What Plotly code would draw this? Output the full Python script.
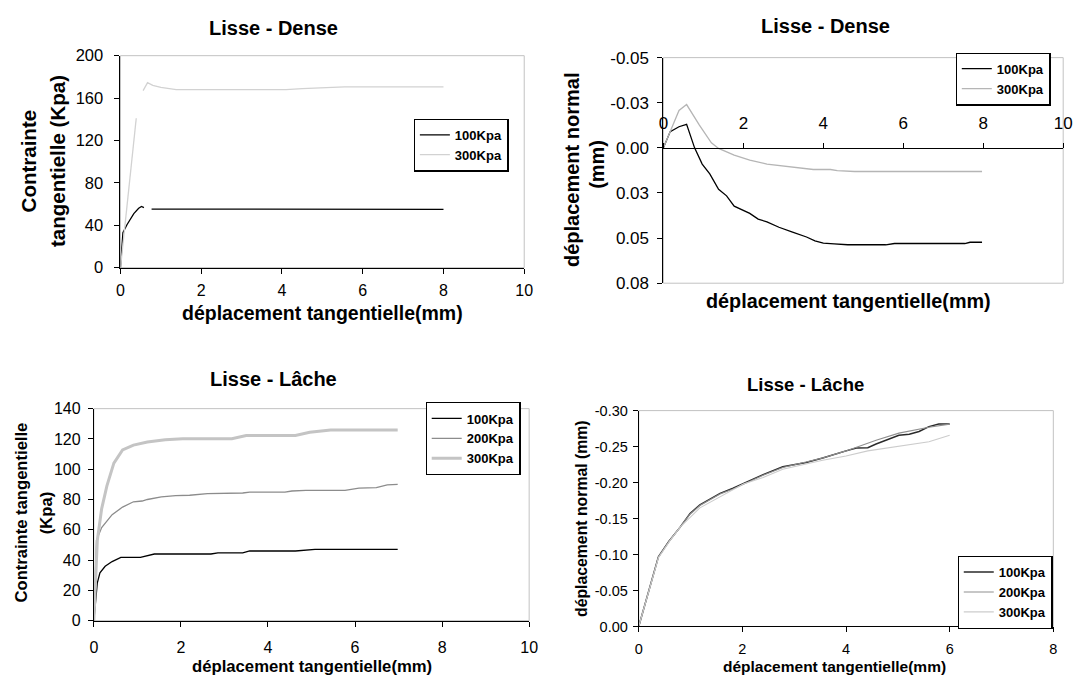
import plotly.graph_objects as go

W, H = 1087, 688
FONT = "Liberation Sans, Arial, sans-serif"

# ---------------- data ----------------
# Panel 1 : Lisse - Dense, shear stress
dense_tau_x100 = [0, 0.06, 0.16, 0.33, 0.45, 0.52, 0.58, 0.68, 0.77, 8.0]
dense_tau_y100 = [0, 33, 40.5, 51, 56, 57.8, 56.6, None, 55.3, 55.0]
dense_tau_x300 = [0, 0.39, 0.48, 0.56, 0.67, 0.8, 1.0, 1.38, 4.1, 4.5, 5.55, 8.0]
dense_tau_y300 = [0, 141, None, 167, 174.5, 172, 170, 168, 168, 169, 170.5, 170.5]

# Panel 2 : Lisse - Dense, normal displacement
dense_dn_x100 = [0, 0.17, 0.39, 0.58, 0.78, 0.97, 1.16, 1.38, 1.58, 1.77, 2.16, 2.37,
                 2.59, 2.89, 3.23, 3.58, 3.79, 4.0, 4.27, 4.61, 5.56, 5.78, 7.54, 7.67, 7.97]
dense_dn_y100 = [0, -0.009, -0.0117, -0.013, 0, 0.009, 0.0144, 0.023, 0.0266, 0.0323,
                 0.0363, 0.0395, 0.041, 0.044, 0.0467, 0.0494, 0.0515, 0.0528, 0.0532,
                 0.0537, 0.0537, 0.053, 0.053, 0.0523, 0.0523]
dense_dn_x300 = [0, 0.39, 0.58, 0.9, 1.2, 1.38, 1.77, 2.16, 2.59, 3.23, 3.75, 4.18, 4.35, 4.78, 7.97]
dense_dn_y300 = [0, -0.0207, -0.024, -0.0126, -0.0028, 0.0003, 0.004, 0.0068, 0.009,
                 0.0108, 0.012, 0.012, 0.0126, 0.0131, 0.0131]

# Panel 3 : Lisse - Lâche, shear stress
loose_tau_x100 = [0, 0.08, 0.14, 0.26, 0.42, 0.62, 1.07, 1.39, 2.69, 2.85, 3.42, 3.58, 4.63, 5.08, 6.98]
loose_tau_y100 = [0, 25, 31.6, 35.9, 39, 41.8, 41.8, 44, 44, 44.8, 44.8, 46, 46, 47, 47]
loose_tau_x200 = [0, 0.06, 0.18, 0.42, 0.66, 0.91, 1.11, 1.23, 1.55, 1.88, 2.2, 2.61, 3.42,
                  3.58, 4.39, 4.55, 4.87, 5.77, 6.09, 6.49, 6.74, 6.98]
loose_tau_y200 = [0, 53, 61.5, 70, 75, 78.5, 79, 80, 81.7, 82.6, 82.8, 83.9, 84.3, 84.9,
                  84.9, 85.6, 86, 86, 87.5, 87.9, 89.6, 90]
loose_tau_x300 = [0, 0.08, 0.18, 0.3, 0.46, 0.66, 0.91, 1.23, 1.64, 2.04, 3.17, 3.5, 4.63, 4.96, 5.44, 6.98]
loose_tau_y300 = [0, 53, 74, 89, 104, 112.7, 115.9, 118, 119.5, 120.1, 120.1, 122.3, 122.3,
                  124.4, 125.9, 125.9]

# Panel 4 : Lisse - Lâche, normal displacement
loose_dn_x100 = [0, 0.38, 0.58, 0.8, 0.99, 1.18, 1.57, 1.82, 2.4, 2.78, 3.23, 3.55, 4.0, 4.2,
                 4.42, 4.58, 5.02, 5.22, 5.41, 5.6, 5.79, 6.0]
loose_dn_y100 = [0, -0.0967, -0.118, -0.138, -0.157, -0.169, -0.185, -0.192, -0.211, -0.222,
                 -0.228, -0.234, -0.244, -0.248, -0.2485, -0.2535, -0.2656, -0.267, -0.271,
                 -0.2777, -0.2812, -0.2812]
loose_dn_x200 = [0, 0.38, 0.58, 0.8, 0.99, 1.18, 1.57, 1.82, 2.4, 2.78, 3.23, 3.55, 4.0, 4.2,
                 4.58, 5.02, 5.6, 6.0]
loose_dn_y200 = [0, -0.0967, -0.118, -0.138, -0.156, -0.168, -0.184, -0.191, -0.210, -0.221,
                 -0.228, -0.234, -0.244, -0.249, -0.2588, -0.2687, -0.2768, -0.2812]
loose_dn_x300 = [0, 0.38, 0.61, 0.8, 1.18, 1.57, 2.02, 2.4, 2.78, 3.55, 4.0, 4.42, 5.02, 5.6, 6.0]
loose_dn_y300 = [0, -0.0954, -0.12, -0.138, -0.1648, -0.1805, -0.198, -0.207, -0.2185,
                 -0.231, -0.237, -0.244, -0.25, -0.2566, -0.2656]

# tick labels
p2_tickvals = [-0.05, -0.025, 0, 0.025, 0.05, 0.075]
p2_ticktext = ["-0.05", "-0.03", "0.00", "0.03", "0.05", "0.08"]
p4_tickvals = [-0.30, -0.25, -0.20, -0.15, -0.10, -0.05, 0.0]
p4_ticktext = ["-0.30", "-0.25", "-0.20", "-0.15", "-0.10", "-0.05", "0.00"]


def px(x):
    return x / W


def py(y):
    return 1 - y / H


fig = go.Figure()

def add(x, y, name, color, width, xa, ya, legend):
    fig.add_trace(go.Scatter(x=x, y=y, mode="lines", name=name,
                             line=dict(color=color, width=width),
                             xaxis=xa, yaxis=ya, legend=legend,
                             connectgaps=False, hoverinfo="skip"))

add(dense_tau_x100, dense_tau_y100, "100Kpa", "#000000", 1.3, "x", "y", "legend")
add(dense_tau_x300, dense_tau_y300, "300Kpa", "#d2d2d2", 1.3, "x", "y", "legend")
add(dense_dn_x100, dense_dn_y100, "100Kpa", "#000000", 1.3, "x2", "y2", "legend2")
add(dense_dn_x300, dense_dn_y300, "300Kpa", "#b5b5b5", 1.3, "x2", "y2", "legend2")
add(loose_tau_x100, loose_tau_y100, "100Kpa", "#000000", 1.3, "x3", "y3", "legend3")
add(loose_tau_x200, loose_tau_y200, "200Kpa", "#8c8c8c", 1.3, "x3", "y3", "legend3")
add(loose_tau_x300, loose_tau_y300, "300Kpa", "#c4c4c4", 3, "x3", "y3", "legend3")
add(loose_dn_x100, loose_dn_y100, "100Kpa", "#2a2a2a", 1.5, "x4", "y4", "legend4")
add(loose_dn_x200, loose_dn_y200, "200Kpa", "#8f8f8f", 1.1, "x4", "y4", "legend4")
add(loose_dn_x300, loose_dn_y300, "300Kpa", "#cccccc", 1.1, "x4", "y4", "legend4")

axcommon = dict(showgrid=False, zeroline=False, showline=True, linecolor="#000000",
                linewidth=1, ticks="outside", ticklen=5, tickcolor="#000000",
                fixedrange=True)

# domains (pixels -> paper)
d1x = [px(117), px(526)]; d1y = [py(266), py(48)]
d2x = [px(667), px(1072)]; d2y = [py(282), py(50)]
d3x = [px(90), px(531)]; d3y = [py(629), py(411)]
d4x = [px(642), px(1062)]; d4y = [py(635), py(413)]

# y=0 position for panel 2 x-axis
p2_range = [0.075, -0.05]
frac0 = (p2_range[0] - 0) / (p2_range[0] - p2_range[1])
p2_xpos = d2y[0] + frac0 * (d2y[1] - d2y[0])

fig.update_layout(
    width=W, height=H, margin=dict(l=0, r=0, t=0, b=0),
    paper_bgcolor="white", plot_bgcolor="rgba(0,0,0,0)",
    font=dict(family=FONT, color="#000000"),
    xaxis=dict(axcommon, domain=d1x, range=[0, 10], dtick=2, anchor="y",
               tickfont=dict(size=16), ticklabelstandoff=3),
    yaxis=dict(axcommon, domain=d1y, range=[0, 200], dtick=40, anchor="x",
               tickfont=dict(size=16.5), ticklabelstandoff=8),
    xaxis2=dict(axcommon, domain=d2x, range=[0, 10], dtick=2, anchor="free",
                position=p2_xpos, side="top", tickfont=dict(size=17),
                ticklabelstandoff=7),
    yaxis2=dict(axcommon, domain=d2y, range=p2_range, tickvals=p2_tickvals,
                ticktext=p2_ticktext, anchor="x2", tickfont=dict(size=17),
                ticklabelstandoff=5),
    xaxis3=dict(axcommon, domain=d3x, range=[0, 10], dtick=2, anchor="y3",
                tickfont=dict(size=16), ticklabelstandoff=7),
    yaxis3=dict(axcommon, domain=d3y, range=[0, 140], dtick=20, anchor="x3",
                tickfont=dict(size=16), ticklabelstandoff=4),
    xaxis4=dict(axcommon, domain=d4x, range=[0, 8], dtick=2, anchor="y4",
                tickfont=dict(size=14.5), ticklabelstandoff=4),
    yaxis4=dict(axcommon, domain=d4y, range=[0, -0.30], tickvals=p4_tickvals,
                ticktext=p4_ticktext, anchor="x4", tickfont=dict(size=14.5),
                ticklabelstandoff=2),
)

legstyle = dict(bgcolor="white", bordercolor="#000000", borderwidth=1.2,
                font=dict(family=FONT, size=13, color="#000000", weight="bold"),
                xanchor="left", yanchor="middle", tracegroupgap=0, itemwidth=30)
fig.update_layout(
    legend=dict(legstyle, x=px(414), y=py(140)),
    legend2=dict(legstyle, x=px(963), y=py(72)),
    legend3=dict(legstyle, x=px(426), y=py(442)),
    legend4=dict(legstyle, x=px(965), y=py(600)),
)

# light grey plot-area frames
for i in ["", "2", "3", "4"]:
    fig.add_shape(type="rect", xref=f"x{i} domain", yref=f"y{i} domain",
                  x0=0, x1=1, y0=0, y1=1, line=dict(color="#c2c2c2", width=1),
                  layer="below")

def ann(text, x, y, size, angle=0):
    fig.add_annotation(text=f"<b>{text}</b>", x=px(x), y=py(y), xref="paper", yref="paper",
                       showarrow=False, textangle=angle, xanchor="center", yanchor="middle",
                       borderpad=0,
                       font=dict(family=FONT, size=size, color="#000000"))

# titles
ann("Lisse - Dense", 272, 20, 20)
ann("Lisse - Dense", 831, 17, 20)
ann("Lisse - Lâche", 272, 381, 20)
ann("Lisse - Lâche", 811, 386, 18.5)
# x titles
ann("déplacement tangentielle(mm)", 322, 313, 19.5)
ann("déplacement tangentielle(mm)", 854, 300, 19.8)
ann("déplacement tangentielle(mm)", 311, 676, 16.7)
ann("déplacement tangentielle(mm)", 840, 676, 15.5)
# y titles
ann("Contrainte", 24, 156, 20.5, -90)
ann("tangentielle (Kpa)", 53, 156, 20.5, -90)
ann("déplacement normal", 575, 165, 20, -90)
ann("(mm)", 599, 160, 20, -90)
ann("Contrainte tangentielle", 17, 518, 16.6, -90)
ann("(Kpa)", 42, 518, 16.6, -90)
ann("déplacement normal (mm)", 584, 524, 15.8, -90)

fig.write_html("out.html", config={"displayModeBar": False},
               post_script="document.body.style.margin='0';"
                           "document.body.style.overflow='hidden';")
